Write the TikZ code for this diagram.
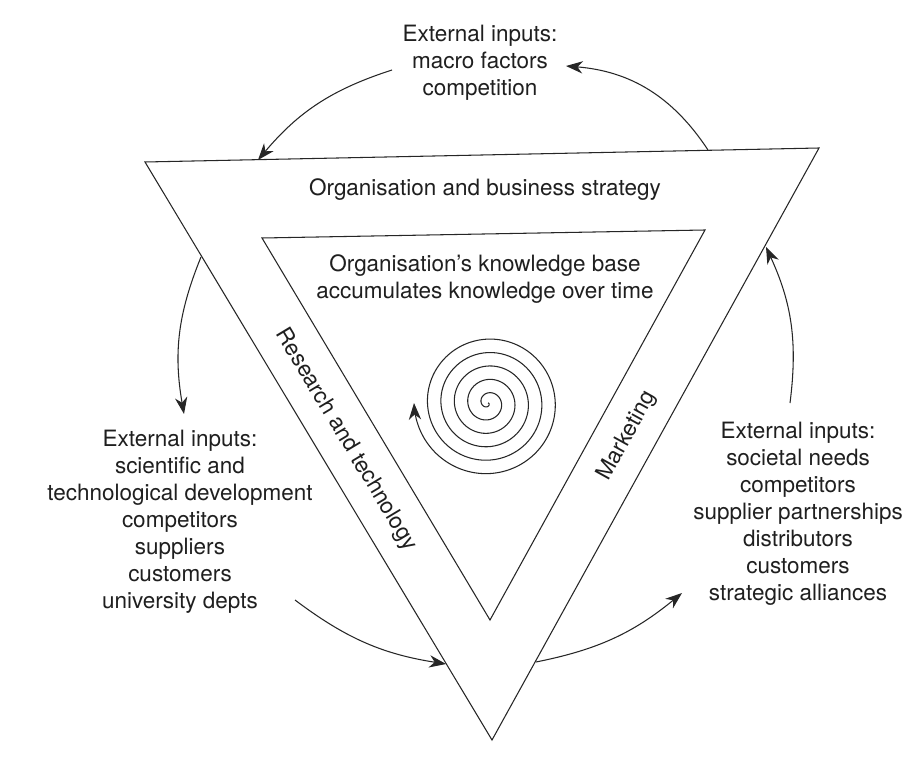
\documentclass[tikz,border=0pt]{standalone}
\usepackage{fontspec}
\setmainfont{TeX Gyre Heros}
\usetikzlibrary{arrows.meta}

\tikzset{
    edge/.style={line width=0.6pt, draw=black!85},
    flow/.style={line width=0.6pt, draw=black!85, -{Stealth[length=9.5pt, width=7pt, inset=3pt]}},
    txt/.style={align=center, inner sep=0pt, text=black!88, font=\fontsize{12.8}{15.4}\selectfont},
}

\begin{document}
\begin{tikzpicture}[x=0.02cm, y=0.02cm]
    \useasboundingbox[fill=white] (0,0) rectangle (915,-763);

    % outer and inner triangles
    \coordinate (oA) at (145,-162);
    \coordinate (oB) at (819,-148);
    \coordinate (oC) at (492,-740);
    \coordinate (iA) at (262,-238);
    \coordinate (iB) at (705,-230);
    \coordinate (iC) at (490,-620);
    \draw[edge] (oA) -- (oB) -- (oC) -- cycle;
    \draw[edge] (iA) -- (iB) -- (iC) -- cycle;

    \node[txt] (strategy) at (485,-190) {Organisation and business strategy};
    \node[txt] (base) at (485,-279) {Organisation's knowledge base\\accumulates knowledge over time};
    \node[txt, rotate=-59] (research) at (346,-440) {Research and technology};
    \node[txt, rotate=61] (marketing) at (627,-436) {Marketing};

    \node[txt] (extTop) at (480,-63) {External inputs:\\macro factors\\competition};
    \node[txt] (extLeft) at (180,-522) {External inputs:\\scientific and\\technological development\\competitors\\suppliers\\customers\\university depts};
    \node[txt] (extRight) at (798,-514) {External inputs:\\societal needs\\competitors\\supplier partnerships\\distributors\\customers\\strategic alliances};

    % knowledge spiral
    \draw[flow, shift={(488,-403)}] plot[domain=0:1980, samples=400, smooth] (-\x:{74/1980*\x});

    % ends of the outer arrows
    \coordinate (s1) at (708,-150);  \coordinate (e1) at (566,-66);
    \coordinate (s2) at (392,-70);   \coordinate (e2) at (258,-160);
    \coordinate (s3) at (201,-257);  \coordinate (e3) at (184,-414);
    \coordinate (s4) at (295,-600);  \coordinate (e4) at (446,-664);
    \coordinate (s5) at (536,-662);  \coordinate (e5) at (682,-593);
    \coordinate (s6) at (790,-403);  \coordinate (e6) at (766,-247);

    \draw[flow] (s1) to[bend right=26] (e1);
    \draw[flow] (s2) to[bend right=16] (e2);
    \draw[flow] (s3) to[bend right=16] (e3);
    \draw[flow] (s4) to[bend right=14] (e4);
    \draw[flow] (s5) to[bend right=14] (e5);
    \draw[flow] (s6) to[bend right=16] (e6);
\end{tikzpicture}
\end{document}
